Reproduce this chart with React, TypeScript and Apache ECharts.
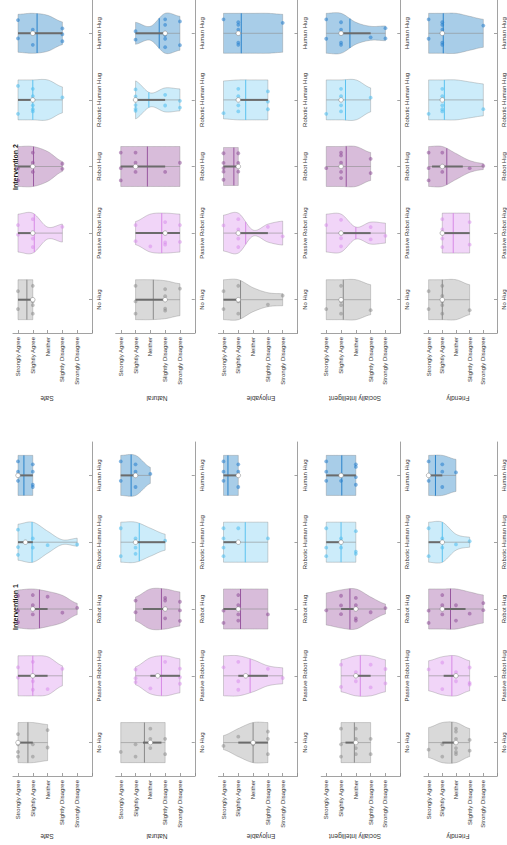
import React, { useEffect, useRef } from "react";
import * as echarts from "echarts";

// ---------- categories / labels ----------
const CATEGORIES = ["No Hug", "Passive Robot Hug", "Robot Hug", "Robotic Human Hug", "Human Hug"];
const LIKERT = ["", "Strongly Disagree", "Slightly Disagree", "Neither", "Slightly Agree", "Strongly Agree"]; // value 1..5
const METRICS = ["Safe", "Natural", "Enjoyable", "Socially Intelligent", "Friendly"];
const INTERVENTIONS = ["Intervention 1", "Intervention 2"];

// Per-violin arrays are ordered: No Hug, Passive Robot Hug, Robot Hug, Robotic Human Hug, Human Hug.
// Shape: relative violin width at Strongly Agree, Slightly Agree, Neither, Slightly Disagree, Strongly Disagree (0 = no data there)
// Dots: number of respondents at the same five levels
// Box: [lower quartile, median, upper quartile]  (5 = Strongly Agree ... 1 = Strongly Disagree)

// ----- Intervention 1 -----
const i1SafeShape = [[1, 1, 0.9, 0, 0], [1, 1, 0.95, 0.5, 0], [0.95, 1, 0.88, 0.68, 0.28], [0.9, 1, 0.55, 0.12, 0.2], [1, 1, 0, 0, 0]];
const i1SafeDots = [[4, 2, 2, 0, 0], [2, 3, 1, 1, 0], [3, 3, 1, 1, 1], [3, 2, 1, 0, 1], [3, 4, 0, 0, 0]];
const i1SafeBox = [[4, 5, 5], [3, 4, 5], [3, 4, 4], [4, 4.5, 5], [4, 5, 5]];
const i1SafeMean = [4.33, 4.0, 3.55, 4.05, 4.6];

const i1NaturalShape = [[1, 1, 1, 1, 0], [0, 0.45, 0.9, 1, 0.85], [0, 0.6, 1, 1, 0.85], [1, 1, 0.7, 0.4, 0], [1, 1, 0.4, 0, 0]];
const i1NaturalDots = [[1, 2, 3, 2, 0], [0, 3, 1, 1, 3], [0, 2, 0, 3, 3], [2, 3, 0, 1, 0], [2, 3, 1, 0, 0]];
const i1NaturalBox = [[2.25, 3, 3.5], [1, 2.5, 3], [2, 2, 3.5], [2, 4, 4], [4, 4, 5]];
const i1NaturalMean = [3.4, 2.25, 2.25, 3.75, 4.3];

const i1EnjoyShape = [[0.35, 0.7, 1, 1, 0], [1, 1, 0.8, 0.5, 0.4], [1, 1, 1, 1, 0], [1, 1, 1, 1, 0], [1, 1, 0, 0, 0]];
const i1EnjoyDots = [[1, 1, 1, 3, 0], [1, 3, 0, 1, 1], [2, 4, 0, 1, 0], [4, 1, 0, 1, 0], [3, 3, 0, 0, 0]];
const i1EnjoyBox = [[2, 3, 4], [2, 3.5, 4], [4, 4, 5], [4, 4, 5], [4, 4, 5]];
const i1EnjoyMean = [3.0, 3.2, 3.85, 3.53, 4.7];

const i1SocialShape = [[0, 1, 1, 1, 0], [0, 0.8, 1, 1, 0.8], [0.8, 0.95, 1, 0.6, 0.25], [1, 1, 1, 0, 0], [1, 1, 1, 0, 0]];
const i1SocialDots = [[0, 3, 4, 2, 0], [0, 2, 2, 2, 2], [1, 3, 4, 1, 1], [3, 2, 3, 0, 0], [3, 1, 4, 0, 0]];
const i1SocialBox = [[3, 3, 3.7], [2, 3, 3], [3, 3, 4], [4, 4, 5], [3, 4, 5]];
const i1SocialMean = [3.1, 2.7, 3.4, 4.0, 3.95];

const i1FriendShape = [[0.75, 1, 1, 0.7, 0], [0.75, 0.95, 1, 0.75, 0], [1, 1, 1, 0.85, 0.7], [1, 1, 0.4, 0.25, 0], [1, 1, 0.8, 0, 0]];
const i1FriendDots = [[1, 2, 6, 2, 0], [1, 2, 2, 3, 0], [2, 3, 2, 1, 2], [2, 2, 1, 1, 0], [2, 3, 1, 0, 0]];
const i1FriendBox = [[3, 3, 4], [3, 3, 3.9], [2.3, 4, 4], [4, 4, 5], [4, 5, 5]];
const i1FriendMean = [3.3, 3.3, 3.4, 4.0, 4.5];

// ----- Intervention 2 -----
const i2SafeShape = [[1, 1, 0, 0, 0], [0.95, 1, 0.3, 0.45, 0], [1, 1, 0.75, 0.25, 0], [1, 1, 1, 0.65, 0], [0.95, 1, 0.9, 0.57, 0]];
const i2SafeDots = [[2, 4, 0, 0, 0], [2, 3, 0, 1, 0], [2, 3, 0, 2, 0], [2, 5, 0, 1, 0], [2, 2, 0, 3, 0]];
const i2SafeBox = [[4, 4, 5], [4, 4, 5], [4, 4, 5], [4, 4, 5], [2, 4, 5]];
const i2SafeMean = [4.4, 3.9, 3.95, 4.0, 3.71];

const i2NaturalShape = [[0, 1, 1, 0.95, 0.8], [0, 0.58, 0.95, 1, 0.95], [1, 1, 1, 1, 1], [0, 0.95, 0.35, 0.6, 0.55], [0, 0.55, 0.35, 1, 0.85]];
const i2NaturalDots = [[0, 3, 0, 4, 1], [0, 2, 1, 3, 2], [3, 3, 0, 1, 1], [0, 5, 0, 2, 2], [0, 2, 0, 5, 2]];
const i2NaturalBox = [[2, 2, 4], [1, 2, 4], [2, 4, 5], [2, 4, 4], [2, 2, 4]];
const i2NaturalMean = [2.8, 2.23, 3.2, 3.1, 2.4];

const i2EnjoyShape = [[1, 1, 0.6, 0.35, 0.3], [0.9, 1, 0.15, 0.45, 0.6], [0.95, 0.95, 0, 0, 0], [0.95, 1, 1, 1, 0], [1, 1, 1, 1, 0.95]];
const i2EnjoyDots = [[2, 3, 0, 1, 1], [1, 4, 0, 1, 1], [5, 3, 0, 0, 0], [1, 4, 0, 3, 0], [1, 5, 0, 0, 1]];
const i2EnjoyBox = [[4, 4, 5], [2, 4, 4], [4, 4, 5], [2, 4, 4], [4, 4, 4]];
const i2EnjoyMean = [3.85, 3.5, 4.3, 3.5, 3.8];

const i2SocialShape = [[1, 1, 1, 0.75, 0], [0.95, 0.95, 0.3, 0.55, 0.5], [1, 1, 1, 0.7, 0], [1, 1, 1, 0.6, 0], [1, 1, 0.55, 0.35, 0.37]];
const i2SocialDots = [[1, 4, 0, 1, 0], [1, 3, 0, 2, 1], [1, 5, 0, 2, 0], [1, 4, 0, 1, 0], [2, 4, 0, 1, 2]];
const i2SocialBox = [[4, 4, 4], [2, 4, 4], [4, 4, 4], [4, 4, 4], [2, 4, 4]];
const i2SocialMean = [3.85, 3.0, 3.65, 3.7, 3.4];

const i2FriendShape = [[1, 1, 1, 0.75, 0], [0, 1, 1, 1, 0], [1, 1, 0.65, 0.3, 0.15], [1, 1, 1, 0.9, 0.8], [1, 1, 1, 0.85, 0.7]];
const i2FriendDots = [[2, 5, 0, 1, 0], [0, 4, 0, 2, 0], [3, 2, 0, 1, 1], [1, 5, 0, 0, 1], [2, 5, 0, 0, 1]];
const i2FriendBox = [[4, 4, 4], [2, 4, 4], [2.5, 4, 4.75], [4, 4, 4], [4, 4, 4]];
const i2FriendMean = [4.0, 3.2, 3.67, 3.85, 3.93];

// ---------- styling ----------
const FILL = ["#d9d9d9", "#f1d5f8", "#d8bcda", "#ccecfa", "#a8cde8"];
const DOT = ["rgba(135,135,135,0.5)", "rgba(215,135,235,0.5)", "rgba(135,65,145,0.5)", "rgba(75,190,240,0.55)", "rgba(35,125,205,0.55)"];
const MEAN = ["#8a8a8a", "#d78ae6", "#98579f", "#5bc2ef", "#2a82ca"];
const FONT = "'Liberation Sans', Arial, Helvetica, sans-serif";
const JITTER = [0.55, -0.5, 0.1, 0.82, -0.82, 0.32, -0.22, 0.68, -0.65];

type Panel = { shape: number[][]; dots: number[][]; box: number[][]; mean: number[] };
const PANELS: Panel[][] = [
  [
    { shape: i1SafeShape, dots: i1SafeDots, box: i1SafeBox, mean: i1SafeMean },
    { shape: i1NaturalShape, dots: i1NaturalDots, box: i1NaturalBox, mean: i1NaturalMean },
    { shape: i1EnjoyShape, dots: i1EnjoyDots, box: i1EnjoyBox, mean: i1EnjoyMean },
    { shape: i1SocialShape, dots: i1SocialDots, box: i1SocialBox, mean: i1SocialMean },
    { shape: i1FriendShape, dots: i1FriendDots, box: i1FriendBox, mean: i1FriendMean },
  ],
  [
    { shape: i2SafeShape, dots: i2SafeDots, box: i2SafeBox, mean: i2SafeMean },
    { shape: i2NaturalShape, dots: i2NaturalDots, box: i2NaturalBox, mean: i2NaturalMean },
    { shape: i2EnjoyShape, dots: i2EnjoyDots, box: i2EnjoyBox, mean: i2EnjoyMean },
    { shape: i2SocialShape, dots: i2SocialDots, box: i2SocialBox, mean: i2SocialMean },
    { shape: i2FriendShape, dots: i2FriendDots, box: i2FriendBox, mean: i2FriendMean },
  ],
];

// width lookup: level value 5..1 -> index 0..4
function levelWidth(shape: number[], v: number) {
  return shape[5 - v];
}

function violinRange(shape: number[]) {
  let lo = 6, hi = 0;
  for (let v = 1; v <= 5; v++) {
    if (levelWidth(shape, v) > 0) {
      lo = Math.min(lo, v);
      hi = Math.max(hi, v);
    }
  }
  return [lo, hi];
}

function widthAt(shape: number[], v: number) {
  const [lo, hi] = violinRange(shape);
  const w = (x: number) => levelWidth(shape, Math.max(lo, Math.min(hi, x)));
  const a = Math.floor(v);
  const b = Math.ceil(v);
  if (a === b) return w(a);
  const t = v - a;
  const p0 = w(a - 1), p1 = w(a), p2 = w(b), p3 = w(b + 1);
  const r =
    0.5 *
    (2 * p1 + (-p0 + p2) * t + (2 * p0 - 5 * p1 + 4 * p2 - p3) * t * t + (-p0 + 3 * p1 - 3 * p2 + p3) * t * t * t);
  return Math.max(0.06, Math.min(1.04, r));
}

function makeRenderItem(panel: Panel) {
  return (params: any, api: any) => {
    const c = params.dataIndex;
    const shape = panel.shape[c];
    const [lo, hi] = violinRange(shape);
    const center = api.coord([3, c]);
    const cy = center[1];
    const H = api.size([0, 1])[1] * 0.3;
    const px = (v: number) => api.coord([v, c])[0];
    const children: any[] = [];

    // violin outline
    const steps = 48;
    const upper: number[][] = [];
    const lower: number[][] = [];
    for (let i = 0; i <= steps; i++) {
      const v = lo + ((hi - lo) * i) / steps;
      const w = widthAt(shape, v) * H;
      upper.push([px(v), cy - w]);
      lower.push([px(v), cy + w]);
    }
    children.push({
      type: "polygon",
      shape: { points: upper.concat(lower.reverse()) },
      style: { fill: FILL[c], stroke: "rgba(120,120,120,0.55)", lineWidth: 0.6 },
    });

    // individual responses
    const counts = panel.dots[c];
    for (let li = 0; li < 5; li++) {
      const v = 5 - li;
      const n = counts[li];
      const w = levelWidth(shape, v) * H * 0.85;
      for (let k = 0; k < n; k++) {
        const off = n === 1 ? JITTER[(li + c) % JITTER.length] * w : JITTER[(k + li * 2 + c) % JITTER.length] * w;
        children.push({
          type: "circle",
          shape: { cx: px(v), cy: cy + off, r: 1.9 },
          style: { fill: DOT[c] },
        });
      }
    }

    // mean line
    const m = panel.mean[c];
    const mw = widthAt(shape, m) * H;
    children.push({
      type: "line",
      shape: { x1: px(m), y1: cy - mw, x2: px(m), y2: cy + mw },
      style: { stroke: MEAN[c], lineWidth: 1 },
    });

    // whisker
    children.push({
      type: "line",
      shape: { x1: px(lo), y1: cy, x2: px(hi), y2: cy },
      style: { stroke: "#8f8f8f", lineWidth: 0.6 },
    });

    // interquartile box
    const [q1, med, q3] = panel.box[c];
    if (q3 > q1) {
      children.push({
        type: "line",
        shape: { x1: px(q1), y1: cy, x2: px(q3), y2: cy },
        style: { stroke: "#6b6b6b", lineWidth: 2 },
      });
    }

    // median
    children.push({
      type: "circle",
      shape: { cx: px(med), cy, r: 2.3 },
      style: { fill: "#ffffff", stroke: "#7a7a7a", lineWidth: 0.5 },
    });

    return { type: "group", children };
  };
}

// ---------- layout (pixels) ----------
const PANEL_PITCH = 102.75;
const FIRST_AGREE_X = 18;
const UNIT = 14.8;
const GRID_TOP = [442, -1];
const GRID_HEIGHT = 334;
const TITLE_POS = [
  [15, 607],
  [15, 167],
];
const NAME_X = [47, 157, 261, 355, 458];
const NAME_Y = [836, 398];

export default function App() {
  const ref = useRef<HTMLDivElement>(null);

  useEffect(() => {
    if (!ref.current) return;
    const chart = echarts.init(ref.current, undefined, { renderer: "svg" });

    const grids: any[] = [];
    const xAxes: any[] = [];
    const yAxes: any[] = [];
    const series: any[] = [];
    const graphics: any[] = [];

    INTERVENTIONS.forEach((title, j) => {
      graphics.push({
        type: "text",
        x: TITLE_POS[j][0],
        y: TITLE_POS[j][1],
        rotation: Math.PI / 2,
        style: {
          text: title,
          font: `bold 7px ${FONT}`,
          fill: "#111",
          align: "center",
          verticalAlign: "middle",
        },
      });
      METRICS.forEach((metric, k) => {
        const idx = grids.length;
        const agreeX = FIRST_AGREE_X + PANEL_PITCH * k;
        grids.push({
          left: agreeX - 0.34 * UNIT,
          top: GRID_TOP[j],
          width: 5.34 * UNIT,
          height: GRID_HEIGHT,
          containLabel: false,
        });
        xAxes.push({
          type: "value",
          gridIndex: idx,
          min: 0,
          max: 5.34,
          interval: 1,
          inverse: true,
          position: "bottom",
          splitLine: { show: false },
          axisLine: { show: true, lineStyle: { color: "#8a8a8a", width: 0.8 } },
          axisTick: { show: true, inside: true, length: 3, lineStyle: { color: "#8a8a8a", width: 0.8 } },
          axisLabel: {
            rotate: 90,
            fontSize: 6,
            color: "#333",
            margin: 4,
            fontFamily: FONT,
            showMaxLabel: false,
            formatter: (v: number) => (Number.isInteger(v) && v >= 1 && v <= 5 ? LIKERT[v] : ""),
          },
        });
        yAxes.push({
          type: "category",
          gridIndex: idx,
          data: CATEGORIES,
          position: "right",
          boundaryGap: true,
          splitLine: { show: false },
          axisLine: { show: true, lineStyle: { color: "#8a8a8a", width: 0.8 } },
          axisTick: { show: true, inside: true, alignWithLabel: true, interval: 0, length: 3, lineStyle: { color: "#8a8a8a", width: 0.8 } },
          axisLabel: { rotate: 90, interval: 0, hideOverlap: false, fontSize: 6, color: "#333", margin: 4, fontFamily: FONT },
        });
        graphics.push({
          type: "text",
          x: NAME_X[k],
          y: NAME_Y[j],
          rotation: Math.PI,
          style: {
            text: metric,
            font: `6.5px ${FONT}`,
            fill: "#333",
            align: "center",
            verticalAlign: "middle",
          },
        });
        const panel = PANELS[j][k];
        series.push({
          type: "custom",
          xAxisIndex: idx,
          yAxisIndex: idx,
          renderItem: makeRenderItem(panel),
          encode: { x: 0, y: 1 },
          data: CATEGORIES.map((_, c) => [panel.mean[c], c]),
          silent: true,
        });
      });
    });

    chart.setOption({
      animation: false,
      backgroundColor: "#ffffff",
      textStyle: { fontFamily: FONT },
      grid: grids,
      xAxis: xAxes,
      yAxis: yAxes,
      series,
      graphic: graphics,
    });

    return () => chart.dispose();
  }, []);

  return (
    <div
      ref={ref}
      style={{ position: "fixed", left: 0, top: 0, width: 507, height: 845, background: "#fff" }}
    />
  );
}
